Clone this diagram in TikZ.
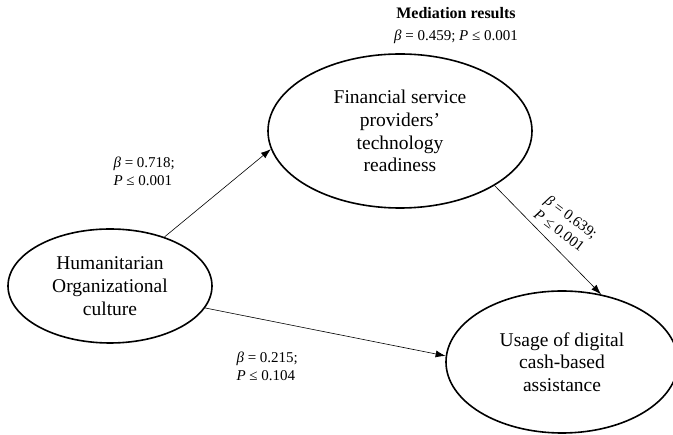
\documentclass[tikz,border=0pt]{standalone}
\usepackage{fontspec}
\setmainfont{Liberation Serif}
\usetikzlibrary{arrows.meta, shapes, positioning}

\newcommand{\bcoef}[2]{\textit{β} = #1;\\\textit{P} ≤ #2}

\begin{document}
\begin{tikzpicture}[x=1pt, y=-1pt,
    construct/.style={ellipse, draw, line width=1.6pt, inner sep=0pt, align=center,
        font=\fontsize{19.5}{22.7}\selectfont},
    path/.style={-{Latex[length=10pt, width=7pt]}, line width=0.6pt},
    coef/.style={align=left, font=\fontsize{15}{18}\selectfont}]
    \useasboundingbox (0,0) rectangle (673,435);
    \clip (0,0) rectangle (673,435);

    % Constructs
    \node[construct, minimum width=204pt, minimum height=114pt] (culture) at (110,286)
        {Humanitarian\\Organizational\\culture};
    \node[construct, minimum width=264pt, minimum height=154pt] (readiness) at (400,131)
        {Financial service\\providers'\\technology\\readiness};
    \node[construct, minimum width=232pt, minimum height=142pt] (usage) at (562,362)
        {Usage of digital\\cash-based\\assistance};

    % Paths
    \draw[path] (culture.42) -- (readiness.188);
    \draw[path] (readiness.330) -- (usage.60);
    \draw[path] (culture.347) -- (usage.177);

    % Coefficients
    \node[coef, anchor=west] (c1) at (110,171) {\bcoef{0.718}{0.001}};
    \node[coef, anchor=west] (c3) at (233,366) {\bcoef{0.215}{0.104}};
    \node[coef, rotate=-37] (c2) at (566,224) {\bcoef{0.639}{0.001}};

    % Mediation
    \node[align=center, font=\fontsize{15}{22}\selectfont] (med) at (456,26)
        {\textbf{\fontsize{16}{22}\selectfont Mediation results}\\\textit{β} = 0.459; \textit{P} ≤ 0.001};
\end{tikzpicture}
\end{document}
